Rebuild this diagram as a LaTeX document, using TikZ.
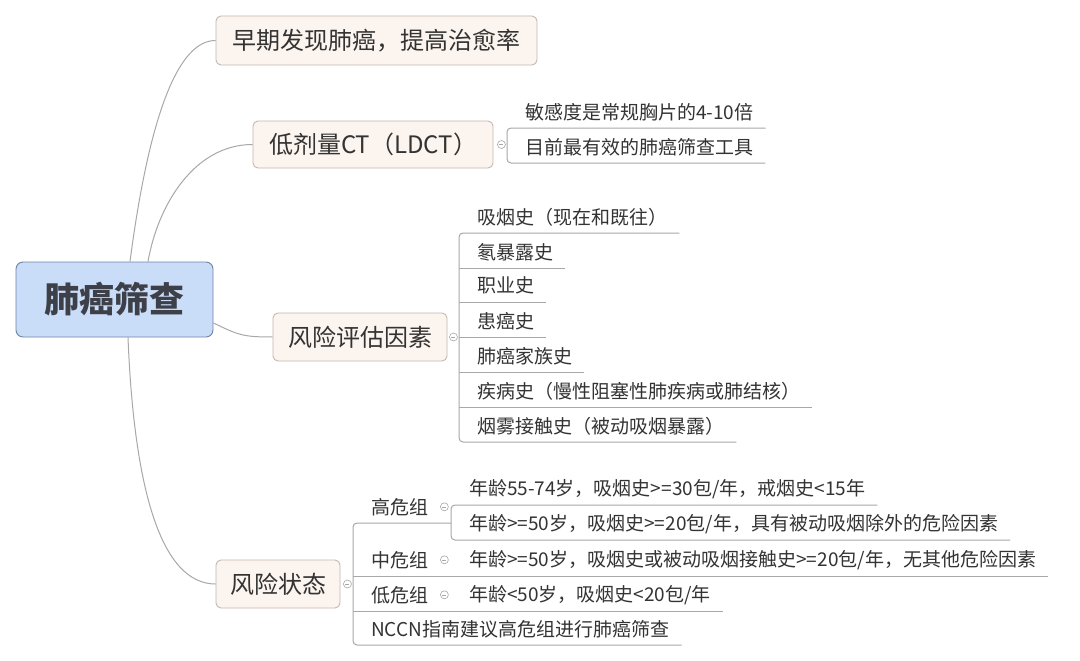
\documentclass[tikz,border=0pt]{standalone}
\usepackage{fontspec}
\setmainfont{Noto Sans CJK SC}
\usetikzlibrary{calc}

\definecolor{rootfill}{HTML}{C9DCF8}
\definecolor{rootline}{HTML}{6F84A6}
\definecolor{roottext}{HTML}{3D4048}
\definecolor{topicfill}{HTML}{FCF4EE}
\definecolor{topicline}{HTML}{C4B8B0}
\definecolor{linkgrey}{HTML}{A8A8A8}
\definecolor{textgrey}{HTML}{333333}

\tikzset{
	rootbox/.style={draw=rootline, fill=rootfill, line width=0.9pt, rounded corners=7pt, minimum width=197pt, minimum height=75pt, inner sep=0pt, text=roottext, font=\fontsize{35pt}{35pt}\selectfont\bfseries},
	topicbox/.style={draw=topicline, fill=topicfill, line width=0.9pt, rounded corners=5pt, minimum width=#1, minimum height=48pt, inner sep=0pt, text=textgrey, font=\fontsize{24pt}{24pt}\selectfont},
	leaf/.style={anchor=south west, inner xsep=12pt, inner ysep=0pt, minimum height=32pt, text=textgrey, font=\fontsize{19pt}{19pt}\selectfont},
	link/.style={draw=linkgrey, line width=1pt},
	bracket/.style={link, rounded corners=4pt},
	fold/.style={circle, draw=linkgrey, fill=white, line width=0.6pt, minimum size=8pt, inner sep=0pt,
		path picture={\draw[linkgrey, line width=0.6pt] ([xshift=-2pt]path picture bounding box.center) -- ([xshift=2pt]path picture bounding box.center);}}
}

\begin{document}
\begin{tikzpicture}[x=1pt, y=-1pt]
		%%%%% START %%%%%
		
		\fill[white] (0, 0) rectangle (1080, 661);
		\useasboundingbox (0, 0) rectangle (1080, 661);
		
		\node[rootbox] (root) at (114.5, 299.5) {肺癌筛查};
		
		\node[topicbox=321pt, minimum height=49pt] (early) at (376.5, 40.5) {早期发现肺癌，提高治愈率};
		\node[topicbox=240pt, minimum height=47pt] (ldct) at (373, 144.5) {低剂量CT（LDCT）};
		\node[topicbox=174pt] (factor) at (360, 337) {风险评估因素};
		\node[topicbox=124pt] (state) at (278, 584) {风险状态};
		
		\draw[link] ([xshift=15.5pt]root.north) .. controls +(20, -152) and +(-36, 0) .. (early.west);
		\draw[link] ([xshift=33.5pt]root.north) .. controls +(10, -57) and +(-58, 0) .. (ldct.west);
		\draw[link] ([yshift=-23.5pt]root.east) .. controls +(25, 12) and +(-30, 0) .. (factor.west);
		\draw[link] ([xshift=13.5pt]root.south) .. controls +(6, 150) and +(-55, 0) .. (state.west);
		
		% LDCT
		\node[leaf] (ld1) at (513, 128) {敏感度是常规胸片的4-10倍};
		\node[leaf] (ld2) at (513, 163) {目前最有效的肺癌筛查工具};
		\draw[bracket] (ld1.south east) -- ([xshift=-6pt]ld1.south west) -- ([xshift=-6pt]ld2.south west) -- (ld2.south east);
		\node[fold] (ldfold) at ([xshift=8pt]ldct.east) {};
		
		% risk factors
		\node[leaf] (rf1) at (465, 233) {吸烟史（现在和既往）};
		\node[leaf] (rf2) at (465, 268) {氡暴露史};
		\node[leaf] (rf3) at (465, 302) {职业史};
		\node[leaf] (rf4) at (465, 337) {患癌史};
		\node[leaf] (rf5) at (465, 372) {肺癌家族史};
		\node[leaf] (rf6) at (465, 407) {疾病史（慢性阻塞性肺疾病或肺结核）};
		\node[leaf] (rf7) at (465, 442) {烟雾接触史（被动吸烟暴露）};
		\draw[bracket] (rf1.south east) -- ([xshift=-6pt]rf1.south west) -- ([xshift=-6pt]rf7.south west) -- (rf7.south east);
		\foreach \i in {2,...,6}
			\draw[link] ([xshift=-6pt]rf\i.south west) -- (rf\i.south east);
		\node[fold] (rffold) at ([xshift=6pt]factor.east) {};
		
		% risk state
		\node[leaf] (high) at (359, 523) {高危组};
		\node[leaf] (mid) at (359, 576) {中危组};
		\node[leaf] (low) at (359, 611) {低危组};
		\node[leaf] (nccn) at (359, 645) {NCCN指南建议高危组进行肺癌筛查};
		
		\node[leaf] (high1) at (457, 505) {年龄55-74岁，吸烟史>=30包/年，戒烟史<15年};
		\node[leaf] (high2) at (457, 540) {年龄>=50岁，吸烟史>=20包/年，具有被动吸烟除外的危险因素};
		\node[leaf] (mid1) at (457, 576) {年龄>=50岁，吸烟史或被动吸烟接触史>=20包/年，无其他危险因素};
		\node[leaf] (low1) at (457, 611) {年龄<50岁，吸烟史<20包/年};
		
		\coordinate (hbr) at ([xshift=-6pt]high1.south west);
		\draw[bracket] (high1.south east) -- (hbr) -- ([xshift=-6pt]high2.south west) -- (high2.south east);
		\draw[bracket] (high.south -| hbr) -- ([xshift=-6pt]high.south west) -- ([xshift=-6pt]nccn.south west) -- (nccn.south east);
		\draw[link] ([xshift=-6pt]mid.south west) -- (mid1.south east);
		\draw[link] ([xshift=-6pt]low.south west) -- (low1.south east);
		
		\node[fold] (stfold) at ([xshift=7pt]state.east) {};
		\node[fold] (hifold) at ([xshift=4pt]high.east) {};
		\node[fold] (mifold) at ([xshift=4pt]mid.east) {};
		\node[fold] (lofold) at ([xshift=4pt]low.east) {};
		
		%%%%% END %%%%%
	\end{tikzpicture}
\end{document}
